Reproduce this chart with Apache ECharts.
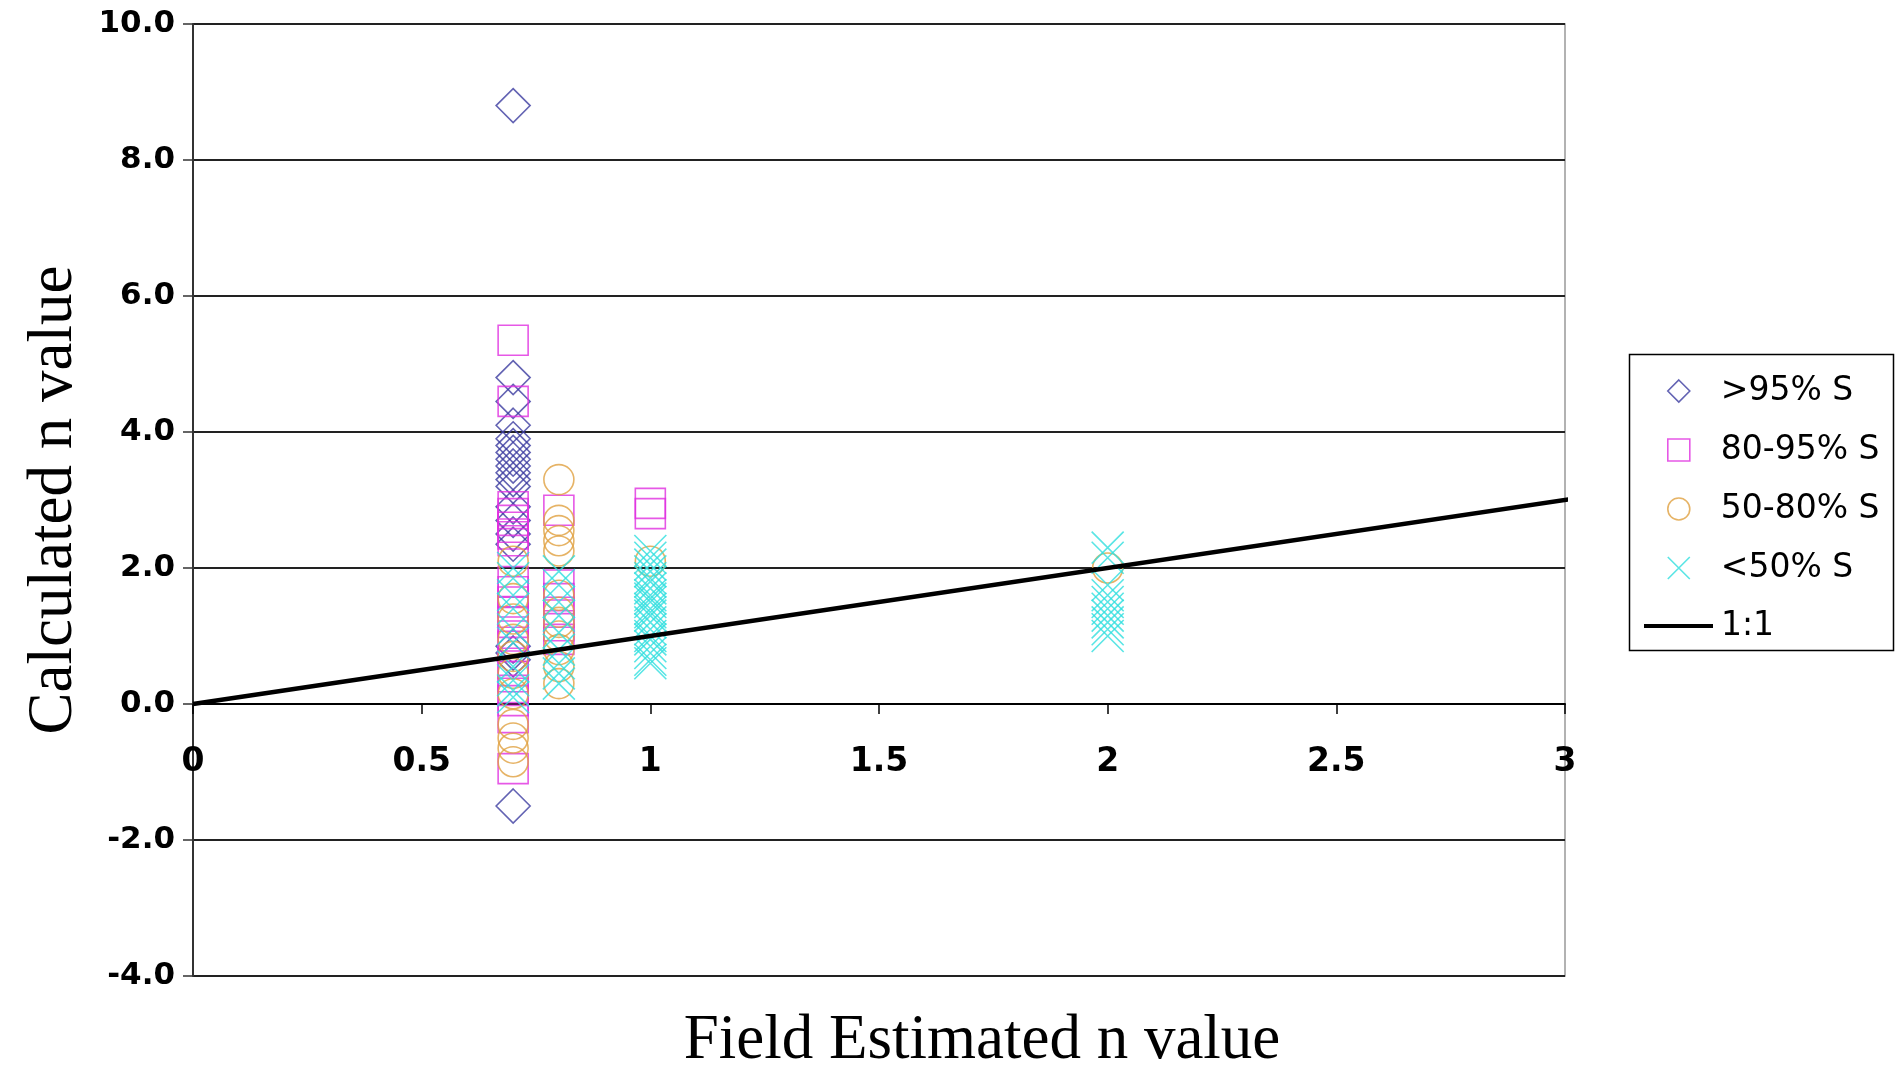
<!DOCTYPE html>
<html>
<head>
<meta charset="utf-8">
<script src="https://cdn.jsdelivr.net/npm/echarts@6/dist/echarts.min.js"></script>
<style>
html, body { margin: 0; padding: 0; background: #fff; }
#main { width: 1895px; height: 1066px; }
</style>
</head>
<body>
<div id="main"></div>
<script>
// series names
var names = ['>95% S', '80-95% S', '50-80% S', '<50% S', '1:1'];

// [field estimated n, calculated n]
var over95 = [
    [0.7, 8.8], [0.7, 4.8], [0.7, 4.45], [0.7, 4.1], [0.7, 3.9], [0.7, 3.8],
    [0.7, 3.7], [0.7, 3.6], [0.7, 3.5], [0.7, 3.4], [0.7, 3.3], [0.7, 3.2],
    [0.7, 2.9], [0.7, 2.7], [0.7, 2.5], [0.7, 2.35], [0.7, 0.85], [0.7, 0.75],
    [0.7, 0.65], [0.7, -1.5]
];
var s80to95 = [
    [0.7, 5.35], [0.7, 4.45], [0.7, 2.9], [0.7, 2.8], [0.7, 2.7], [0.7, 2.6],
    [0.7, 2.5], [0.7, 2.4], [0.7, 1.8], [0.7, 1.65], [0.7, 1.5], [0.7, 1.35],
    [0.7, 1.2], [0.7, 1.0], [0.7, 0.85], [0.7, 0.6], [0.7, 0.4], [0.7, 0.2],
    [0.7, 0.05], [0.7, -0.2], [0.7, -0.95],
    [0.8, 2.85], [0.8, 1.75], [0.8, 1.55], [0.8, 1.35], [0.8, 1.15], [0.8, 0.95],
    [1.0, 2.95], [1.0, 2.8]
];
var s50to80 = [
    [0.7, 2.1], [0.7, 1.55], [0.7, 1.25], [0.7, 0.95], [0.7, 0.7], [0.7, 0.45],
    [0.7, 0.15], [0.7, -0.3], [0.7, -0.5], [0.7, -0.65], [0.7, -0.85],
    [0.8, 3.3], [0.8, 2.7], [0.8, 2.55], [0.8, 2.4], [0.8, 2.25], [0.8, 1.6],
    [0.8, 1.35], [0.8, 1.2], [0.8, 1.0], [0.8, 0.8], [0.8, 0.55], [0.8, 0.3],
    [1.0, 2.1], [2.0, 2.0]
];
var under50 = [
    [0.7, 2.0], [0.7, 1.85], [0.7, 1.6], [0.7, 1.4], [0.7, 1.1], [0.7, 0.9],
    [0.7, 0.55], [0.7, 0.35], [0.7, 0.2], [0.7, 0.1],
    [0.8, 1.95], [0.8, 1.75], [0.8, 1.5], [0.8, 1.3], [0.8, 1.05], [0.8, 0.8],
    [0.8, 0.6], [0.8, 0.45], [0.8, 0.3],
    [1.0, 2.25], [1.0, 2.15], [1.0, 2.05], [1.0, 1.95], [1.0, 1.85], [1.0, 1.8],
    [1.0, 1.7], [1.0, 1.6], [1.0, 1.55], [1.0, 1.5], [1.0, 1.4], [1.0, 1.35],
    [1.0, 1.3], [1.0, 1.2], [1.0, 1.1], [1.0, 1.0], [1.0, 0.95], [1.0, 0.85],
    [1.0, 0.75], [1.0, 0.65], [1.0, 0.6],
    [2.0, 2.3], [2.0, 2.15], [2.0, 1.75], [2.0, 1.6], [2.0, 1.5], [2.0, 1.4],
    [2.0, 1.3], [2.0, 1.2], [2.0, 1.1], [2.0, 1.0]
];
var oneToOne = [[0, 0], [3.04, 3.04]];

var colors = ['#3c3ca0', '#e02ee0', '#e0a040', '#30dede', '#000000'];
var crossPath = 'path://M0,0L10,10M10,0L0,10';

var myChart = echarts.init(document.getElementById('main'));

function markerSeries(i, data, symbol, size) {
    return {
        name: names[i],
        type: 'scatter',
        data: data,
        symbol: symbol,
        symbolSize: size,
        itemStyle: {
            color: 'rgba(0,0,0,0)',
            borderColor: colors[i],
            borderWidth: 1.6
        },
        emphasis: { disabled: true }
    };
}

var legendText = {
    color: '#000',
    fontFamily: 'DejaVu Sans',
    fontSize: 33,
    lineHeight: 36
};

var option = {
    backgroundColor: '#fff',
    animation: false,
    grid: {
        left: 193,
        right: 330,
        top: 24,
        bottom: 90,
        containLabel: false,
        outerBoundsMode: 'none',
        show: true,
        borderColor: '#999',
        borderWidth: 1.5
    },
    xAxis: {
        type: 'value',
        min: 0,
        max: 3,
        interval: 0.5,
        position: 'bottom',
        // the x axis sits on y = 0, which is 4 units (272px) above the grid bottom
        offset: -272,
        name: 'Field Estimated n value',
        nameLocation: 'middle',
        nameGap: 306,
        nameTextStyle: {
            color: '#000',
            fontFamily: 'Liberation Serif',
            fontSize: 63,
            padding: [0, 0, 0, 206]
        },
        axisLine: { onZero: false, lineStyle: { color: '#000', width: 2 } },
        axisTick: { show: true, length: 10, lineStyle: { color: '#000', width: 1.5 } },
        axisLabel: {
            margin: 42,
            color: '#000',
            fontFamily: 'DejaVu Sans',
            fontWeight: 'bold',
            fontSize: 33
        },
        splitLine: { show: false }
    },
    yAxis: {
        type: 'value',
        min: -4,
        max: 10,
        interval: 2,
        name: 'Calculated n value',
        nameLocation: 'middle',
        nameRotate: 90,
        nameGap: 107,
        nameTextStyle: {
            color: '#000',
            fontFamily: 'Liberation Serif',
            fontSize: 63
        },
        axisLine: { onZero: false, lineStyle: { color: '#333', width: 2 } },
        axisTick: { show: true, length: 10, lineStyle: { color: '#333', width: 1.5 } },
        axisLabel: {
            margin: 18,
            color: '#000',
            fontFamily: 'DejaVu Sans',
            fontWeight: 'bold',
            fontSize: 31,
            formatter: function (v) {
                return v.toFixed(1);
            }
        },
        splitLine: { show: true, lineStyle: { color: '#222', width: 2 } }
    },
    legend: [
        {
            orient: 'vertical',
            left: 1662,
            top: 368,
            itemWidth: 22,
            itemHeight: 22,
            itemGap: 23,
            textStyle: Object.assign({ padding: [0, 0, 0, 26] }, legendText),
            data: [
                { name: names[0], icon: 'diamond', itemStyle: { color: 'rgba(0,0,0,0)', borderColor: colors[0], borderWidth: 1.6 } },
                { name: names[1], icon: 'rect', itemStyle: { color: 'rgba(0,0,0,0)', borderColor: colors[1], borderWidth: 1.6 } },
                { name: names[2], icon: 'circle', itemStyle: { color: 'rgba(0,0,0,0)', borderColor: colors[2], borderWidth: 1.6 } },
                { name: names[3], icon: crossPath, itemStyle: { color: 'rgba(0,0,0,0)', borderColor: colors[3], borderWidth: 1.6 } }
            ]
        },
        {
            orient: 'vertical',
            left: 1639,
            top: 603,
            itemWidth: 69,
            itemHeight: 4,
            textStyle: Object.assign({ padding: [0, 0, 0, 3] }, legendText),
            data: [{ name: names[4], icon: 'rect', itemStyle: { color: '#000', borderWidth: 0 } }]
        }
    ],
    graphic: [
        {
            type: 'rect',
            left: 1627,
            top: 352,
            shape: { width: 264, height: 296 },
            style: { fill: 'none', stroke: '#000', lineWidth: 1.5 },
            silent: true
        }
    ],
    series: [
        markerSeries(0, over95, 'diamond', 34),
        markerSeries(1, s80to95, 'rect', 30),
        markerSeries(2, s50to80, 'circle', 30),
        markerSeries(3, under50, crossPath, 32),
        {
            name: names[4],
            type: 'line',
            data: oneToOne,
            symbol: 'none',
            clip: false,
            lineStyle: { color: '#000', width: 4.5 },
            emphasis: { disabled: true }
        }
    ]
};

myChart.setOption(option);

window.onresize = function () {
    if (myChart) {
        myChart.resize();
    }
};
</script>
</body>
</html>
